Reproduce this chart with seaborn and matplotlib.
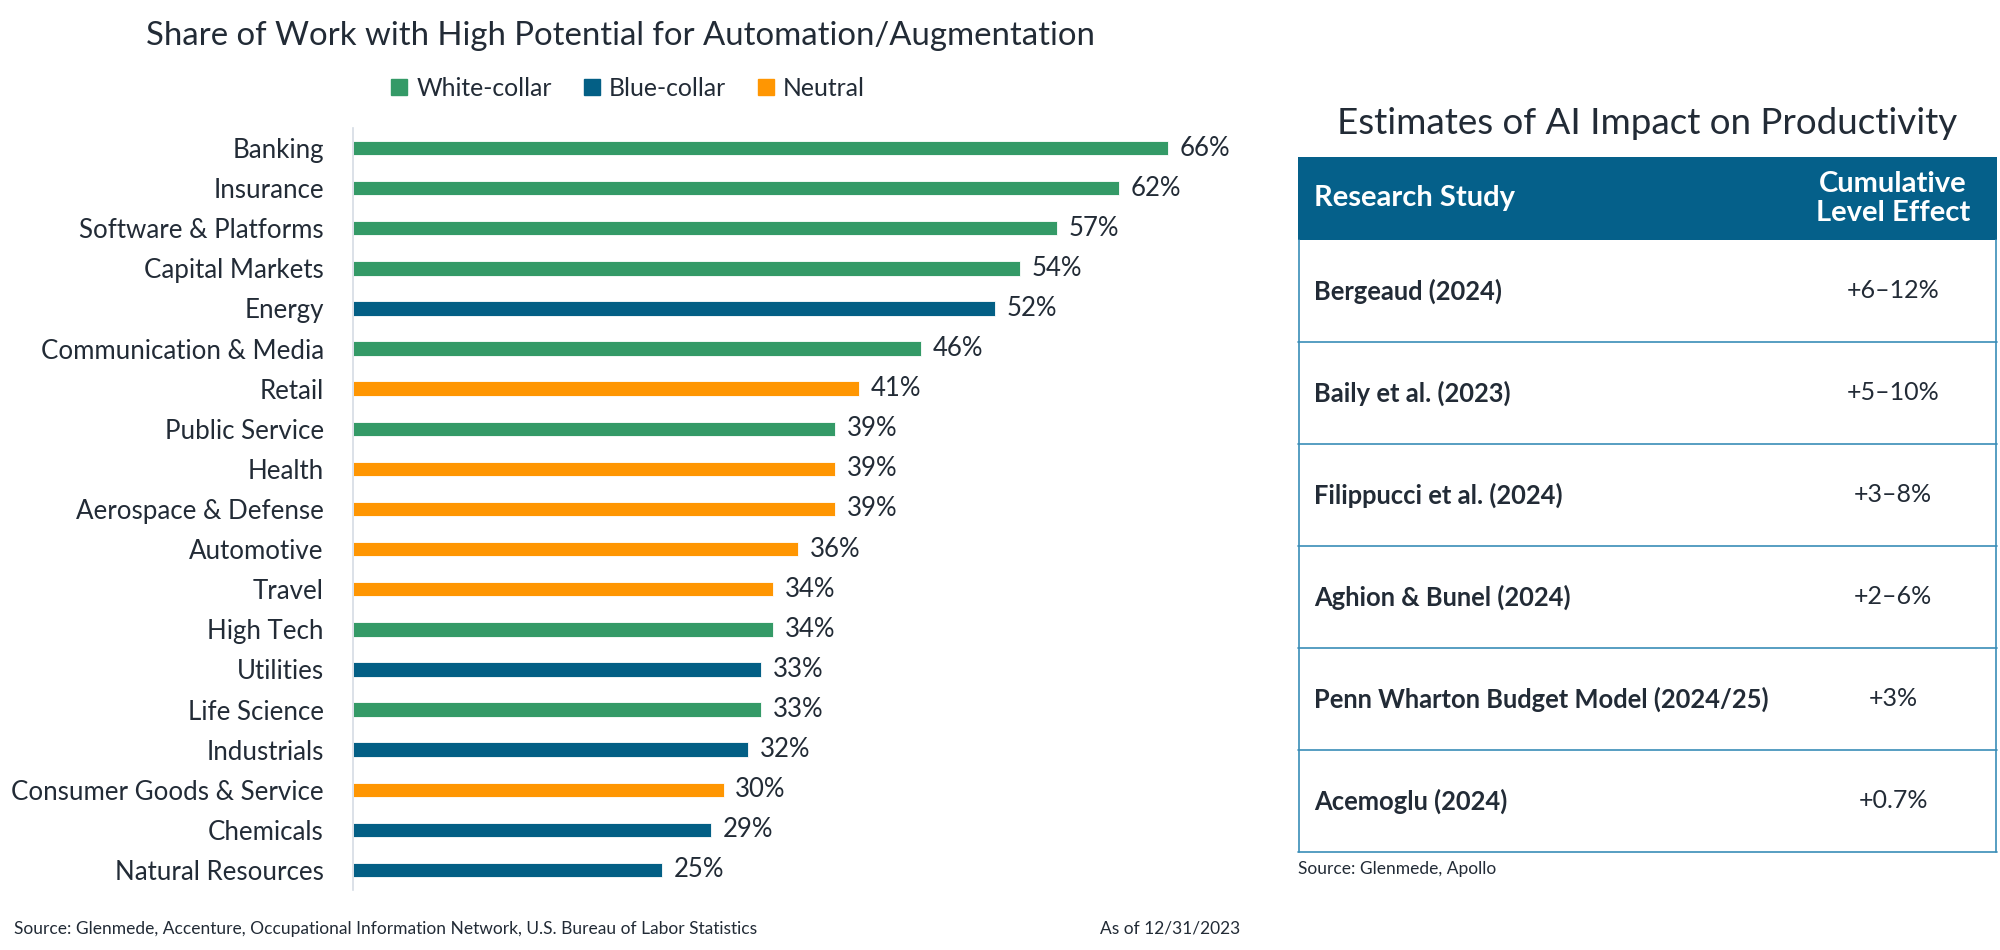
import matplotlib.pyplot as plt
import matplotlib.patches as mpatches
import seaborn as sns
import pandas as pd

sns.set_theme(style="white")
plt.rcParams['font.family'] = ['Lato', 'DejaVu Sans']

TXT = '#222B36'
palette = {'White-collar': '#349A67', 'Blue-collar': '#035F85', 'Neutral': '#FF9602'}

industries = ['Banking', 'Insurance', 'Software & Platforms', 'Capital Markets', 'Energy',
              'Communication & Media', 'Retail', 'Public Service', 'Health',
              'Aerospace & Defense', 'Automotive', 'Travel', 'High Tech', 'Utilities',
              'Life Science', 'Industrials', 'Consumer Goods & Service', 'Chemicals',
              'Natural Resources']
share = [66, 62, 57, 54, 52, 46, 41, 39, 39, 39, 36, 34, 34, 33, 33, 32, 30, 29, 25]
group = ['White-collar', 'White-collar', 'White-collar', 'White-collar', 'Blue-collar',
         'White-collar', 'Neutral', 'White-collar', 'Neutral', 'Neutral', 'Neutral',
         'Neutral', 'White-collar', 'Blue-collar', 'White-collar', 'Blue-collar',
         'Neutral', 'Blue-collar', 'Blue-collar']

studies = ['Bergeaud (2024)', 'Baily et al. (2023)', 'Filippucci et al. (2024)',
           'Aghion & Bunel (2024)', 'Penn Wharton Budget Model (2024/25)', 'Acemoglu (2024)']
effects = ['+6–12%', '+5–10%', '+3–8%', '+2–6%', '+3%', '+0.7%']

df = pd.DataFrame({'industry': industries, 'share': share, 'group': group})

W, H = 2000, 950
fig = plt.figure(figsize=(20, 9.5), dpi=100)

# ---- bar chart ----
ax = fig.add_axes([353 / W, 1 - 890 / H, 914 / W, 762 / H])
sns.barplot(data=df, x='share', y='industry', hue='group', order=industries,
            hue_order=['White-collar', 'Blue-collar', 'Neutral'], palette=palette,
            saturation=1, dodge=False, width=0.36, orient='h', ax=ax,
            edgecolor='white', linewidth=0.6)
ax.set_xlim(0, 74)
ax.set_ylim(18.5, -0.5)
ax.set_xlabel('')
ax.set_ylabel('')
ax.set_xticks([])
ax.tick_params(axis='y', length=0, pad=21, labelsize=18.6, labelcolor=TXT)
for s in ['top', 'right', 'bottom']:
    ax.spines[s].set_visible(False)
ax.spines['left'].set_color('#D5DCE4')
ax.spines['left'].set_linewidth(1.2)
for c in ax.containers:
    ax.bar_label(c, fmt='%.0f%%', padding=8.5, fontsize=18.5, color=TXT)

handles, labels = ax.get_legend_handles_labels()
ax.get_legend().remove()
handles = [mpatches.Patch(color=palette[l]) for l in labels]
fig.legend(handles, labels, loc='center', bbox_to_anchor=(628 / W, 1 - 88 / H), ncol=3,
           frameon=False, handlelength=0.65, handleheight=0.65, handletextpad=0.35,
           columnspacing=1.3, fontsize=17.8, labelcolor=TXT)

fig.text(620 / W, 1 - 36 / H, 'Share of Work with High Potential for Automation/Augmentation',
         ha='center', va='center', fontsize=23.7, color=TXT)

# ---- table ----
tx0, tx1, ty0, ty1 = 1298, 1997, 157, 852
tw, th = tx1 - tx0, ty1 - ty0
tab = fig.add_axes([tx0 / W, 1 - ty1 / H, tw / W, th / H])
tab.set_xlim(0, tw)
tab.set_ylim(th, 0)
tab.axis('off')
line_c = '#3A8DB8'
hdr_h = 83
row_h = (th - hdr_h) / len(studies)
tab.add_patch(mpatches.Rectangle((0, 0), tw, hdr_h, color='#05608A', lw=0))
tab.text(16, hdr_h / 2, 'Research Study', ha='left', va='center', fontsize=21,
         fontweight='bold', color='white')
tab.text(595, hdr_h / 2, 'Cumulative\nLevel Effect', ha='center', va='center', fontsize=21,
         fontweight='bold', color='white', linespacing=1.15)
for i, (s, e) in enumerate(zip(studies, effects)):
    yc = hdr_h + row_h * (i + 0.5)
    tab.text(16, yc, s, ha='left', va='center', fontsize=18.4, fontweight='bold', color=TXT)
    tab.text(595, yc, e, ha='center', va='center', fontsize=18, color=TXT)
    tab.plot([0, tw], [hdr_h + row_h * (i + 1)] * 2, color=line_c, lw=1.2, clip_on=False)
tab.plot([0.5, 0.5], [hdr_h, th], color=line_c, lw=1.2, clip_on=False)
tab.plot([tw - 1, tw - 1], [hdr_h, th], color=line_c, lw=1.2, clip_on=False)

fig.text((tx0 + tx1) / 2 / W, 1 - 124 / H, 'Estimates of AI Impact on Productivity',
         ha='center', va='center', fontsize=26.5, color=TXT)

# ---- sources ----
fig.text(1298 / W, 1 - 869 / H, 'Source: Glenmede, Apollo', ha='left', va='center',
         fontsize=12.5, color=TXT)
fig.text(14 / W, 1 - 929 / H,
         'Source: Glenmede, Accenture, Occupational Information Network, U.S. Bureau of Labor Statistics',
         ha='left', va='center', fontsize=12.5, color=TXT)
fig.text(1240 / W, 1 - 929 / H, 'As of 12/31/2023', ha='right', va='center',
         fontsize=12.5, color=TXT)

fig.savefig('out.png', dpi=100)
